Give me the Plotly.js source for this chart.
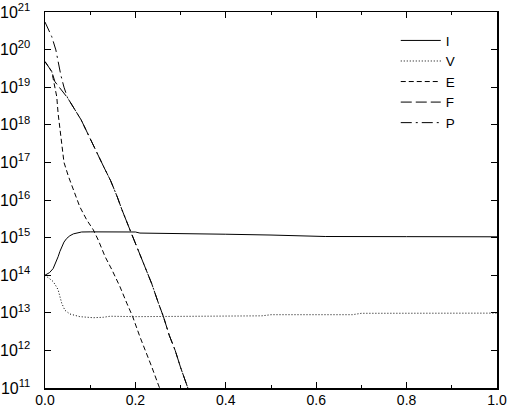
<!DOCTYPE html>
<html>
<head>
<meta charset="utf-8">
<script src="https://cdn.plot.ly/plotly-3.0.1.min.js"></script>
<style>
  html, body { margin: 0; padding: 0; background: #fff; }
  #chart { width: 507px; height: 407px; }
</style>
</head>
<body>
<div id="chart"></div>
<script>
// values
let iX = [0, 0.01, 0.018, 0.025, 0.029, 0.033, 0.037, 0.042, 0.048, 0.055, 0.063, 0.072, 0.081, 0.1, 0.2, 0.21, 0.3, 0.4, 0.5, 0.6, 0.62, 0.8, 1.0];
let iY = [1.0e14, 1.17e14, 1.5e14, 2.3e14, 3.1e14, 4.3e14, 5.8e14, 7.6e14, 9.5e14, 1.12e15, 1.26e15, 1.36e15, 1.41e15, 1.42e15, 1.41e15, 1.32e15, 1.29e15, 1.23e15, 1.17e15, 1.12e15, 1.07e15, 1.06e15, 1.05e15];

let vX = [0, 0.01, 0.018, 0.025, 0.029, 0.033, 0.037, 0.044, 0.055, 0.077, 0.107, 0.129, 0.144, 0.2, 0.3, 0.34, 0.48, 0.5, 0.68, 0.7, 0.8, 0.9, 1.0];
let vY = [1.0e14, 8.3e13, 6.8e13, 5.0e13, 4.1e13, 2.7e13, 1.8e13, 1.17e13, 9.3e12, 7.9e12, 7.4e12, 7.6e12, 8.1e12, 7.9e12, 8.1e12, 8.3e12, 8.3e12, 8.9e12, 8.9e12, 9.7e12, 9.7e12, 9.8e12, 9.8e12];

let eX = [0, 0.015, 0.018, 0.026, 0.029, 0.033, 0.037, 0.042, 0.052, 0.066, 0.077, 0.092, 0.107, 0.118, 0.133, 0.148, 0.166, 0.181, 0.194, 0.21, 0.225, 0.236, 0.251, 0.26];
let eY = [4.8e19, 2.6e19, 1.7e19, 5.6e18, 2.0e18, 7.2e17, 2.6e17, 1.0e17, 4.2e16, 1.5e16, 6.6e15, 3.0e15, 1.6e15, 8.5e14, 3.1e14, 1.4e14, 4.9e13, 1.8e13, 7.9e12, 2.3e12, 8.3e11, 3.7e11, 1.2e11, 6.3e10];

let fX = [0, 0.015, 0.022, 0.05, 0.08, 0.1, 0.115, 0.13, 0.145, 0.16, 0.17, 0.19, 0.206, 0.221, 0.236, 0.251, 0.262, 0.275, 0.288, 0.3, 0.315, 0.325];
let fY = [4.8e19, 2.6e19, 1.4e19, 5.2e18, 1.35e18, 4.5e17, 1.8e17, 7.6e16, 3.3e16, 1.2e16, 5.6e15, 1.4e15, 4.5e14, 1.7e14, 6.0e13, 1.8e13, 7.9e12, 2.5e12, 1.0e12, 3.5e11, 1.0e11, 5.0e10];

let pX = [0, 0.015, 0.024, 0.029, 0.035, 0.042, 0.05, 0.08, 0.1, 0.115, 0.13, 0.145, 0.16, 0.17, 0.19, 0.206, 0.221, 0.236, 0.251, 0.262, 0.275, 0.288, 0.3, 0.315, 0.325];
let pY = [5.4e20, 2.2e20, 9.8e19, 4.4e19, 2.1e19, 1.0e19, 5.2e18, 1.35e18, 4.5e17, 1.8e17, 7.6e16, 3.3e16, 1.2e16, 5.6e15, 1.4e15, 4.5e14, 1.7e14, 6.0e13, 1.8e13, 7.9e12, 2.5e12, 1.0e12, 3.5e11, 1.0e11, 5.0e10];

let names = ["I", "V", "E", "F", "P"];
let dashes = ["solid", "1px,2px", "5px,3px", "11px,4px", "11px,4px,2px,4px"];

let yTickVals = [1e11, 1e12, 1e13, 1e14, 1e15, 1e16, 1e17, 1e18, 1e19, 1e20, 1e21];
let yTickText = ["10<sup>11</sup>", "10<sup>12</sup>", "10<sup>13</sup>", "10<sup>14</sup>", "10<sup>15</sup>",
  "10<sup>16</sup>", "10<sup>17</sup>", "10<sup>18</sup>", "10<sup>19</sup>", "10<sup>20</sup>", "10<sup>21</sup>"];
let xTickVals = [0, 0.2, 0.4, 0.6, 0.8, 1.0];
let xTickText = ["0.0", "0.2", "0.4", "0.6", "0.8", "1.0"];

let xs = [iX, vX, eX, fX, pX];
let ys = [iY, vY, eY, fY, pY];

let data = names.map((n, k) => ({
    x: xs[k],
    y: ys[k],
    name: n,
    type: "scatter",
    mode: "lines",
    line: { color: "#000", width: 1, dash: dashes[k] }
}));

let fam = "Liberation Sans, Arial, sans-serif";
let font = { family: fam, size: 14, color: "#000" };

let layout = {
    width: 507,
    height: 407,
    margin: { l: 45, r: 10, t: 12, b: 19, pad: 0 },
    paper_bgcolor: "#fff",
    plot_bgcolor: "#fff",
    font: font,
    showlegend: true,
    legend: {
        x: 0.776, y: 0.965, xanchor: "left", yanchor: "top",
        bgcolor: "rgba(0,0,0,0)", borderwidth: 0,
        font: { family: fam, size: 13.5, color: "#000" },
        itemwidth: 40, tracegroupgap: 0
    },
    xaxis: {
        range: [0, 1],
        showgrid: false, zeroline: false,
        showline: true, linecolor: "#000", linewidth: 1.5, mirror: "ticks",
        ticks: "inside", ticklen: 6, tickwidth: 1, tickcolor: "#000",
        tickvals: xTickVals, ticktext: xTickText,
        minor: { dtick: 0.1, ticks: "inside", ticklen: 3, tickcolor: "#000", showgrid: false },
        tickfont: font,
        ticklabelstandoff: -1
    },
    yaxis: {
        type: "log",
        range: [11, 21],
        showgrid: false, zeroline: false,
        showline: true, linecolor: "#000", linewidth: 1.5, mirror: "ticks",
        ticks: "inside", ticklen: 6, tickwidth: 1, tickcolor: "#000",
        tickvals: yTickVals, ticktext: yTickText,
        tickfont: { family: fam, size: 16, color: "#000" },
        ticklabelstandoff: 10
    }
};

Plotly.newPlot("chart", data, layout, { staticPlot: true, displayModeBar: false });
</script>
</body>
</html>
